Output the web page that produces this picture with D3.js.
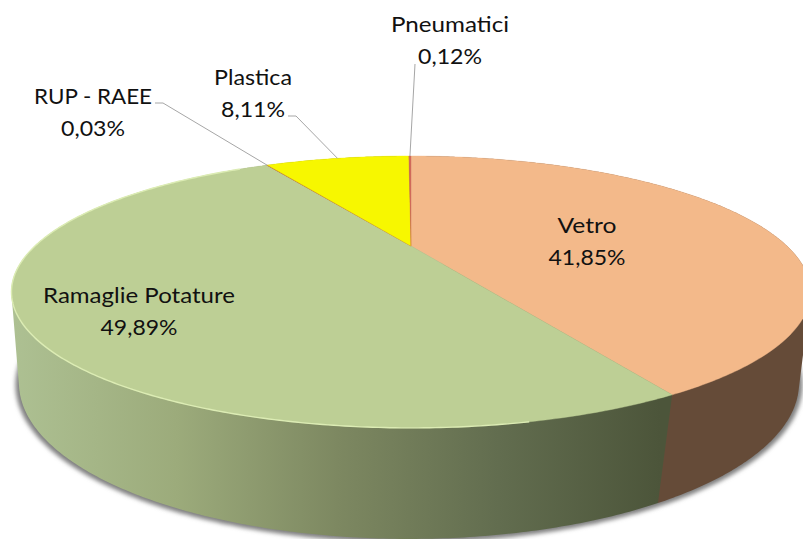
<!DOCTYPE html>
<html>
<head>
<meta charset="utf-8">
<script src="https://cdn.jsdelivr.net/npm/d3@7"></script>
<style>
    html, body { margin: 0; padding: 0; background: #fff; overflow: hidden; }
    svg { display: block; }
    text { font-family: Lato, "Open Sans", sans-serif; font-size: 20.5px; fill: #111; }
</style>
</head>
<body>
<script>
var categories = ["Vetro", "Ramaglie Potature", "RUP - RAEE", "Plastica", "Pneumatici"];
var values = [41.85, 49.89, 0.03, 8.11, 0.12];
var valueLabels = ["41,85%", "49,89%", "0,03%", "8,11%", "0,12%"];
var topColors = ["#f3b98a", "#bdcf95", "#c0504d", "#f7f700", "#d0695a"];

var width = 803, height = 539;

// label layout: centre x, baseline y, width of name, width of value
// (the original text is stretched sideways, so the widths are forced)
var labelPos = {
    "Vetro": [587, 233, 59, 77],
    "Ramaglie Potature": [139, 303, 192, 77],
    "RUP - RAEE": [93, 104, 118, 64],
    "Plastica": [253, 85, 78, 64],
    "Pneumatici": [450, 32, 118, 64]
};
// leader starts (elbow is the second point)
var leaderPos = {
    "RUP - RAEE": [[155, 103], [163, 103]],
    "Plastica": [[288, 116], [296, 116]],
    "Pneumatici": [[415, 64]]
};

// perspective of the disc: apex of the slices sits above the ellipse centre
var topFace = { cx: 411, cy: 246, persp: 0.338, rx: 376, ry: 120.4 };
var bottomFace = { cx: 409, cy: 334.6, persp: 0.31, rx: 370.8, ry: 141 };

function project(angle, r, face) {
    var xScale = d3.scaleLinear().domain([0, 1]).range([face.cx, face.cx + face.rx]);
    var yScale = d3.scaleLinear().domain([0, 1]).range([face.cy, face.cy + face.ry]);
    var u = Math.sin(angle) * r;
    var v = -Math.cos(angle) * r;
    var d = 1 - face.persp * v;
    return [xScale(u / d), yScale(v / d)];
}

function arcPoints(a0, a1, r, face) {
    var n = Math.max(2, Math.ceil(Math.abs(a1 - a0) / 0.01));
    return d3.range(n + 1).map(function (i) {
        return project(a0 + (a1 - a0) * i / n, r, face);
    });
}

var line = d3.line();
var arcs = d3.pie().sort(null).value(function (d) { return d; })(values);

var svg = d3.select("body").append("svg")
    .attr("width", width)
    .attr("height", height);

var defs = svg.append("defs");

var wallGrad = defs.append("linearGradient")
    .attr("id", "wallGreen")
    .attr("gradientUnits", "userSpaceOnUse")
    .attr("x1", 15).attr("x2", 660).attr("y1", 0).attr("y2", 0);
[[0, "#adc092"], [0.25, "#9cab7b"], [0.5, "#7d8861"], [0.75, "#626d4f"], [1, "#4c553a"]].forEach(function (s) {
    wallGrad.append("stop").attr("offset", s[0]).attr("stop-color", s[1]);
});

defs.append("filter").attr("id", "blurShadow")
    .attr("x", "-5%").attr("y", "-5%").attr("width", "110%").attr("height", "110%")
    .append("feGaussianBlur").attr("stdDeviation", 2);
defs.append("filter").attr("id", "blurSoft")
    .append("feGaussianBlur").attr("stdDeviation", 0.6);

// shadow under the disc
svg.append("path")
    .attr("d", line(arcPoints(0, 2 * Math.PI, 1.008, bottomFace)) + "Z")
    .attr("transform", "translate(0,1)")
    .attr("fill", "#808080")
    .attr("filter", "url(#blurShadow)");

// outer walls, hull of both faces so the sides run straight down to the bottom
var wallFills = ["#654b38", "url(#wallGreen)", "#7a3331", "#8a8a00", "#7a3331"];
svg.append("g").selectAll("path")
    .data(arcs)
    .join("path")
    .attr("d", function (d) {
        var topPts = arcPoints(d.startAngle, d.endAngle, 1, topFace);
        var botPts = arcPoints(d.endAngle, d.startAngle, 1, bottomFace);
        return line(d3.polygonHull(topPts.concat(botPts))) + "Z";
    })
    .attr("fill", function (d, i) { return wallFills[i]; });

// top faces
svg.append("g").selectAll("path")
    .data(arcs)
    .join("path")
    .attr("d", function (d) {
        return line([[topFace.cx, topFace.cy]].concat(arcPoints(d.startAngle, d.endAngle, 1, topFace))) + "Z";
    })
    .attr("fill", function (d, i) { return topColors[i]; })
    .attr("stroke", function (d, i) { return topColors[i]; })
    .attr("stroke-width", 0.4);

// light rim on the green slice
svg.append("path")
    .attr("d", line(arcPoints(arcs[1].startAngle + 0.3, arcs[1].endAngle - 0.1, 1, topFace)))
    .attr("fill", "none")
    .attr("stroke", "#dcecb4")
    .attr("stroke-width", 1.4)
    .attr("filter", "url(#blurSoft)");

// leaders, they end on the middle of their slice
var leaders = svg.append("g");
arcs.forEach(function (d, i) {
    var start = leaderPos[categories[i]];
    if (!start) return;
    var end = project((d.startAngle + d.endAngle) / 2, 1, topFace);
    leaders.append("path")
        .attr("d", line(start.concat([end])))
        .attr("fill", "none")
        .attr("stroke", "#a6a6a6")
        .attr("stroke-width", 1);
});

var labels = svg.append("g").selectAll("text")
    .data(categories)
    .join("text")
    .attr("text-anchor", "middle")
    .attr("x", function (d) { return labelPos[d][0]; })
    .attr("y", function (d) { return labelPos[d][1]; });

labels.append("tspan")
    .attr("textLength", function (d) { return labelPos[d][2]; })
    .attr("lengthAdjust", "spacingAndGlyphs")
    .text(function (d) { return d; });
labels.append("tspan")
    .attr("x", function (d) { return labelPos[d][0]; })
    .attr("dy", 32)
    .attr("textLength", function (d) { return labelPos[d][3]; })
    .attr("lengthAdjust", "spacingAndGlyphs")
    .text(function (d, i) { return valueLabels[i]; });
</script>
</body>
</html>
